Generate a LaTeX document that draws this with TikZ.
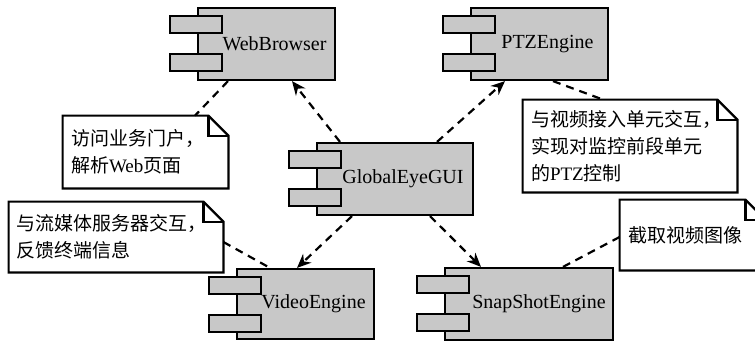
\documentclass[tikz,border=0pt]{standalone}
\usepackage{fontspec}
\setmainfont{Liberation Serif}
\newfontfamily\cjk{Noto Sans CJK SC}
\usetikzlibrary{calc,arrows.meta}
\definecolor{compgray}{RGB}{200,200,200}
\tikzset{
  comp/.style={draw,fill=compgray,line width=1.1pt,minimum height=36pt,font=\fontsize{10}{12}\selectfont},
  tab/.style={draw,fill=compgray,line width=1.1pt},
  memo/.style={align=left,inner xsep=4pt,font=\fontsize{9.5}{13.5}\selectfont},
  dep/.style={dash pattern=on 4pt off 3pt,line width=1.1pt,-{Stealth[length=7pt,width=6pt]}},
  link/.style={dash pattern=on 4pt off 3pt,line width=1.1pt}
}
\begin{document}
\begin{tikzpicture}[x=0.5pt,y=-0.5pt]
  \useasboundingbox (0,0) rectangle (755,343);
  % components
  \node[comp,minimum width=68.5pt] (web) at (266.5,44) {\hspace*{8pt}WebBrowser};
  \node[comp,minimum width=68.5pt] (ptz) at (539.5,44) {\hspace*{8pt}PTZEngine};
  \node[comp,minimum width=78pt] (gui) at (395,179) {\hspace*{8pt}GlobalEyeGUI};
  \node[comp,minimum width=68.5pt,minimum height=35pt] (video) at (305.5,304) {\hspace*{8pt}VideoEngine};
  \node[comp,minimum width=84pt] (snap) at (529,304) {\hspace*{10pt}SnapShotEngine};
  \foreach \c in {web,ptz,gui,video,snap} {
    \draw[tab] ($(\c.north west)+(-27,9)$) rectangle +(52,17);
    \draw[tab] ($(\c.north west)+(-27,47)$) rectangle +(52,17);
  }
  % notes
  \node[memo,text width=74.5pt,minimum height=36pt] (n1) at (145.5,152)
    {{\cjk 访问业务门户，}\\{\cjk 解析}Web{\cjk 页面}};
  \node[memo,text width=99pt,minimum height=46pt] (n2) at (630,146)
    {{\cjk 与视频接入单元交互，}\\{\cjk 实现对监控前段单元}\\{\cjk 的}PTZ{\cjk 控制}};
  \node[memo,text width=99pt,minimum height=35pt] (n3) at (116,237)
    {{\cjk 与流媒体服务器交互，}\\{\cjk 反馈终端信息}};
  \node[memo,text width=64.5pt,minimum height=35pt] (n4) at (692.5,235)
    {{\cjk 截取视频图像}};
  \foreach \n in {n1,n2,n3,n4} {
    \draw[line width=1.1pt] (\n.north west) -- ($(\n.north east)+(-20,0)$)
      -- ($(\n.north east)+(0,20)$) -- (\n.south east) -- (\n.south west) -- cycle;
    \draw[line width=1.1pt] ($(\n.north east)+(-20,0)$) |- ($(\n.north east)+(0,20)$);
  }
  % dependencies
  \draw[dep] ($(gui.north)+(-55,0)$) -- ($(web.south)+(25.5,0)$);
  \draw[dep] ($(gui.north)+(42,0)$) -- ($(ptz.south)+(-34.5,0)$);
  \draw[dep] ($(gui.south)+(-43,0)$) -- ($(video.north)+(-8.5,0)$);
  \draw[dep] ($(gui.south)+(35,0)$) -- ($(snap.north)+(-48,0)$);
  % note links
  \draw[link] ($(web.south)+(-38.5,0)$) -- ($(n1.north)+(49.5,0)$);
  \draw[link] ($(ptz.south)+(13.5,0)$) -- ($(n2.north)+(-27,0)$);
  \draw[link] ($(n3.east)+(0,5)$) -- ($(video.north)+(-35.5,0)$);
  \draw[link] ($(snap.north)+(34,0)$) -- ($(n4.west)+(0,2)$);
\end{tikzpicture}
\end{document}
